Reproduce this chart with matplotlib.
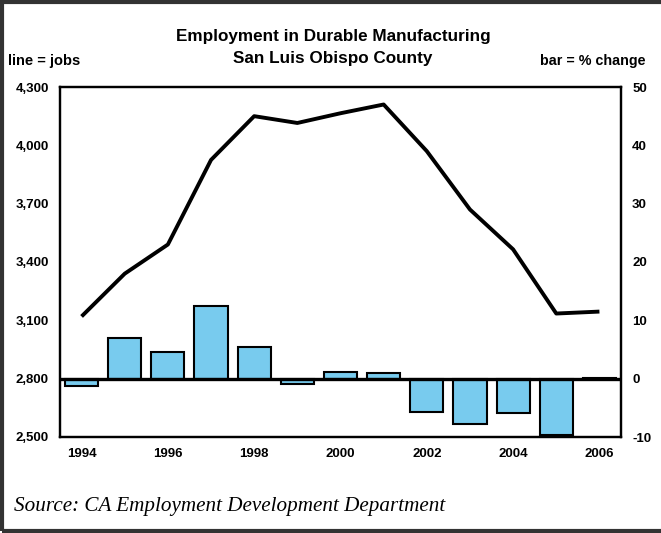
import matplotlib
matplotlib.use("Agg")
import matplotlib.pyplot as plt
from matplotlib.patches import Rectangle

years = [1994, 1995, 1996, 1997, 1998, 1999, 2000, 2001, 2002, 2003, 2004, 2005, 2006]
jobs = [3120, 3340, 3490, 3925, 4150, 4115, 4165, 4210, 3970, 3670, 3465, 3135, 3145]
pct_change = [-1.2, 6.9, 4.5, 12.4, 5.5, -0.9, 1.1, 0.9, -5.7, -7.7, -5.8, -9.6, 0.2]

left_ticks = [2500, 2800, 3100, 3400, 3700, 4000, 4300]
right_ticks = [-10, 0, 10, 20, 30, 40, 50]
x_ticks = [1994, 1996, 1998, 2000, 2002, 2004, 2006]

SANS = ["Liberation Sans", "DejaVu Sans"]
SERIF = ["Liberation Serif", "DejaVu Serif"]

fig = plt.figure(figsize=(6.61, 5.33), dpi=100)
ax = fig.add_axes([60/661, 1-437/533, (621-60)/661, (437-87)/533])
ax2 = ax.twinx()

# bars on right axis
ax2.bar(years, pct_change, width=0.77, color="#78CBEE", edgecolor="black", linewidth=1.5, zorder=2)
ax2.axhline(0, color="black", linewidth=2.4, zorder=3)
ax2.set_ylim(-10, 50)
ax2.set_yticks(right_ticks)
ax2.set_yticklabels([str(t) for t in right_ticks], fontfamily=SANS, fontweight="bold", fontsize=9.5)

# line on left axis, drawn above bars
ax.set_zorder(ax2.get_zorder() + 1)
ax.patch.set_visible(False)
ax.plot(years, jobs, color="black", linewidth=2.8, solid_capstyle="butt", zorder=4)
ax.set_ylim(2500, 4300)
ax.set_yticks(left_ticks)
ax.set_yticklabels([f"{t:,}" for t in left_ticks], fontfamily=SANS, fontweight="bold", fontsize=9.5)
ax.set_xlim(1993.5, 2006.5)
ax.set_xticks(x_ticks)
ax.set_xticklabels([str(t) for t in x_ticks], fontfamily=SANS, fontweight="bold", fontsize=9.5)

for a in (ax, ax2):
    a.tick_params(length=0, pad=8)
    for s in a.spines.values():
        s.set_linewidth(1.6)
ax.tick_params(axis="x", pad=8)

fig.text(333/661, 1-37/533, "Employment in Durable Manufacturing", ha="center", va="center",
         fontfamily=SANS, fontweight="bold", fontsize=12.3)
fig.text(333/661, 1-59/533, "San Luis Obispo County", ha="center", va="center",
         fontfamily=SANS, fontweight="bold", fontsize=12.3)
fig.text(8/661, 1-61/533, "line = jobs", ha="left", va="center",
         fontfamily=SANS, fontweight="bold", fontsize=10.5)
fig.text(645/661, 1-61/533, "bar = % change", ha="right", va="center",
         fontfamily=SANS, fontweight="bold", fontsize=10.3)
fig.text(14/661, 1-507/533, "Source: CA Employment Development Department", ha="left", va="center",
         fontfamily=SERIF, fontstyle="italic", fontsize=15.2)

# outer frame (right side cropped)
fig.patches.append(Rectangle((2/661, 2/533), 1.0, 1-4/533, transform=fig.transFigure,
                             fill=False, edgecolor="#333333", linewidth=3, clip_on=False))

fig.savefig("out.png", dpi=100)
